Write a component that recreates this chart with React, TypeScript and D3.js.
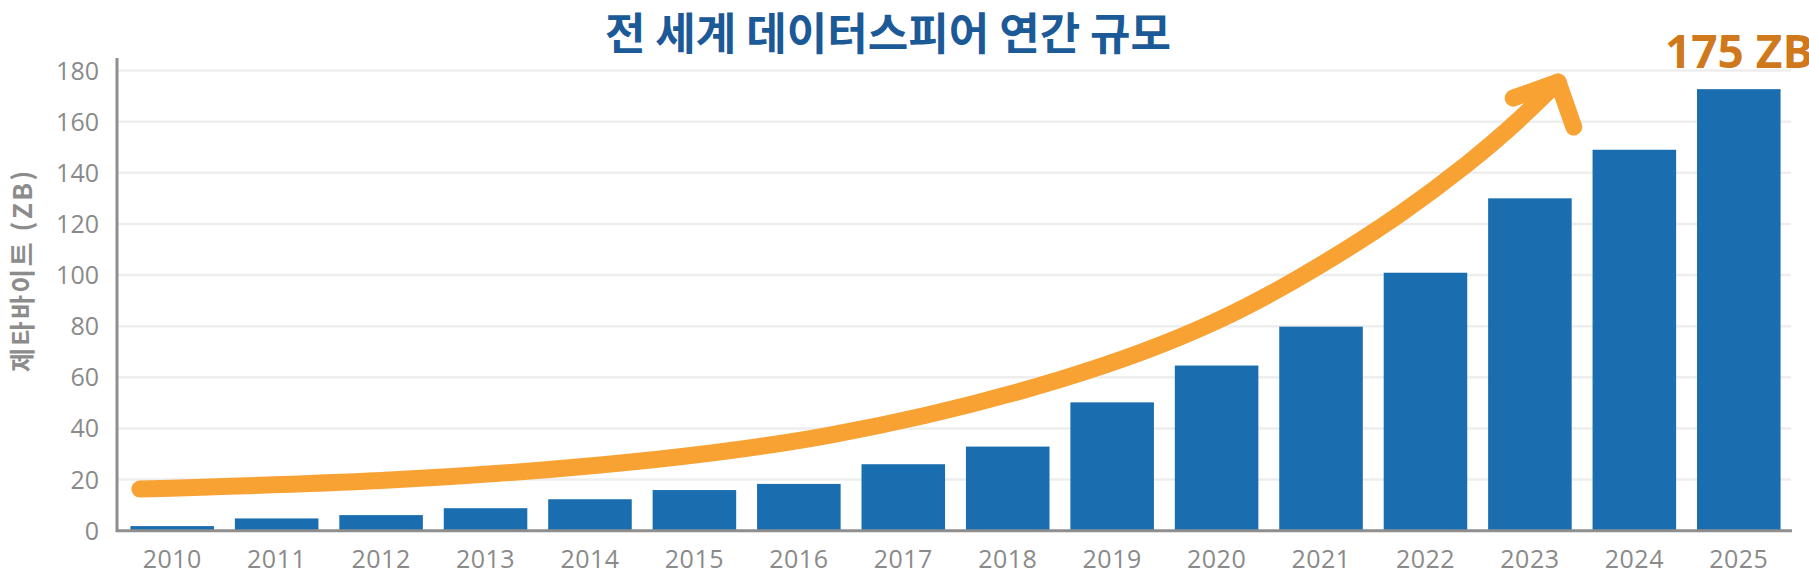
import React from 'react';
import * as d3 from 'd3';

const years = ['2010','2011','2012','2013','2014','2015','2016','2017','2018','2019','2020','2021','2022','2023','2024','2025'];
const values = [1.8, 4.8, 6.1, 8.8, 12.3, 15.9, 18.3, 26, 32.9, 50.2, 64.6, 79.8, 100.9, 130, 149, 172.7];
const yTicks = [0, 20, 40, 60, 80, 100, 120, 140, 160, 180];
const titleText = '전 세계 데이터스피어 연간 규모';
const yAxisTitle = '제타바이트 (ZB)';
const calloutText = '175 ZB';
// trend arrow, in data space: [year index, value]
const arrowIdx = [-0.31, 2.0, 4.1, 6.3, 8.49, 10.0, 11.0, 11.76, 12.4, 12.88, 13.27];
const arrowVal = [16.3, 19.6, 25.7, 37.4, 59.0, 82.0, 104.0, 124.0, 143.5, 160.2, 175.5];
const arrowHeadIdx = [12.84, 13.27, 13.42];
const arrowHeadVal = [169.2, 175.5, 157.9];

const W = 1809;
const H = 576;

export default function App() {
  const x = d3.scaleBand<string>().domain(years).range([120, 1791]).paddingInner(0.2).paddingOuter(0.1);
  const y = d3.scaleLinear().domain([0, 180]).range([530.7, 70.5]);
  const step = x.step();
  const center0 = (x(years[0]) as number) + x.bandwidth() / 2;
  const xi = (i: number) => center0 + i * step;

  const line = d3.line<number>()
    .x((_, i) => xi(arrowIdx[i]))
    .y((_, i) => y(arrowVal[i]))
    .curve(d3.curveNatural);
  const head = d3.line<number>()
    .x((_, i) => xi(arrowHeadIdx[i]))
    .y((_, i) => y(arrowHeadVal[i]));

  const digitFont = "'Open Sans', 'Noto Sans', sans-serif";
  const krFont = "'Noto Sans CJK KR', 'Noto Sans', sans-serif";

  return (
    <svg width={W} height={H} style={{ position: 'absolute', left: 0, top: 0, background: '#ffffff' }}>
      <rect x={0} y={0} width={W} height={H} fill="#ffffff" />
      {yTicks.filter(t => t > 0).map(t => (
        <line key={'g' + t} x1={117} x2={1791} y1={y(t)} y2={y(t)} stroke="#eeeeee" strokeWidth={2.5} />
      ))}
      {years.map((yr, i) => (
        <rect key={yr} x={x(yr)} y={y(values[i])} width={x.bandwidth()} height={y(0) - y(values[i])} fill="#1a6daf" />
      ))}
      <line x1={117} x2={117} y1={58} y2={532} stroke="#8e8e8e" strokeWidth={3} />
      <line x1={116} x2={1792} y1={y(0)} y2={y(0)} stroke="#8e8e8e" strokeWidth={3} />
      {yTicks.map(t => (
        <text key={'t' + t} x={99} y={y(t)} dy="0.36em" textAnchor="end" fontFamily={digitFont} fontSize={25} fill="#8a8a8a">{t}</text>
      ))}
      {years.map(yr => (
        <text key={'l' + yr} x={(x(yr) as number) + x.bandwidth() / 2} y={568} textAnchor="middle" fontFamily={digitFont} fontSize={25} fill="#8a8a8a" letterSpacing={0.5}>{yr}</text>
      ))}
      <text transform="translate(23,270) rotate(-90)" dy="0.35em" textAnchor="middle" fontFamily={krFont} fontWeight={700} fontSize={26} fill="#8c8c8c" letterSpacing={2.5}>{yAxisTitle}</text>
      <path d={line(arrowVal) || ''} fill="none" stroke="#f8a234" strokeWidth={17} strokeLinecap="round" strokeLinejoin="round" />
      <path d={head(arrowHeadVal) || ''} fill="none" stroke="#f8a234" strokeWidth={17} strokeLinecap="round" strokeLinejoin="round" />
      <text x={888} y={50} textAnchor="middle" fontFamily={krFont} fontWeight={700} fontSize={44} fill="#1b5a97">{titleText}</text>
      <text x={1665} y={68} fontFamily={digitFont} fontWeight={700} fontSize={46} fill="#cf781c">{calloutText}</text>
    </svg>
  );
}
